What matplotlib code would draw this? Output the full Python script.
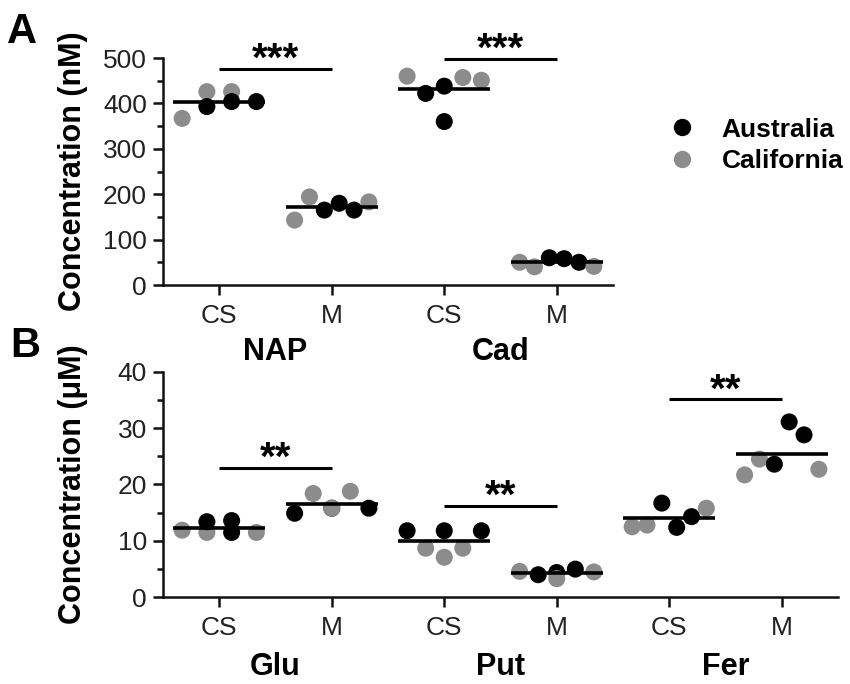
import numpy as np
import matplotlib
matplotlib.use("Agg")
import matplotlib.pyplot as plt
from matplotlib.lines import Line2D

plt.rcParams["font.family"] = ["Liberation Sans", "DejaVu Sans"]

# ---- data -----------------------------------------------------------------
conditions = ["CS", "M"]
origins = {"A": "Australia", "C": "California"}
origin_colors = {"A": "#000000", "C": "#8c8c8c"}

# Panel A: neurotransmitter concentrations (nM)
a_groups = ["NAP", "Cad"]
a_values = [
    [367, 426, 393, 426, 404, 404],      # NAP CS
    [143, 194, 165, 180, 165, 183],      # NAP M
    [460, 422, 438, 360, 457, 451],      # Cad CS
    [50, 40, 60, 58, 50, 41],            # Cad M
]
a_origin = ["CCACAA", "CCAAAC", "CAAACC", "CCAAAC"]
a_slot = [[0, 1, 1, 2, 2, 3], [0, 1, 2, 3, 4, 5],
          [0, 1, 2, 2, 3, 4], [0, 1, 2, 3, 4, 5]]
a_sig_y = [476, 498]
a_sig_text = ["***", "***"]

# Panel B: concentrations (uM)
b_groups = ["Glu", "Put", "Fer"]
b_values = [
    [11.9, 11.5, 13.4, 13.6, 11.5, 11.5],   # Glu CS
    [14.9, 18.4, 15.8, 15.8, 18.8, 15.8],   # Glu M
    [11.8, 8.7, 11.8, 7.1, 8.7, 11.8],      # Put CS
    [4.6, 4.0, 4.4, 3.3, 5.0, 4.5],         # Put M
    [12.5, 12.8, 16.7, 12.4, 14.3, 15.8],   # Fer CS
    [21.7, 24.5, 23.6, 31.1, 28.8, 22.7],   # Fer M
]
b_origin = ["CCAAAC", "ACACCA", "ACACCA", "CAACAC", "CCAAAC", "CCAAAC"]
b_slot = [[0, 1, 1, 2, 2, 3], [0, 1, 2, 2, 3, 4], [0, 1, 2, 2, 3, 4],
          [0, 1, 2, 2, 3, 4], [0, 1, 2, 3, 4, 5], [0, 1, 2, 3, 4, 5]]
b_sig_y = [23.0, 16.2, 35.1]
b_sig_text = ["**", "**", "**"]

# ---- styling --------------------------------------------------------------
SPINE_LW = 1.8
TICK_FS = 19
LABEL_FS = 22
SPREAD = 0.66
MARKER_S = 150
MEAN_HALF = 0.41


def style_axis(ax, ymax, major, minor, ncat):
    ax.set_xlim(-0.5, ncat - 0.5)
    ax.set_ylim(0, ymax)
    for side in ("top", "right"):
        ax.spines[side].set_visible(False)
    for side in ("left", "bottom"):
        ax.spines[side].set_linewidth(SPINE_LW)
        ax.spines[side].set_color("#111111")
    ax.set_yticks(np.arange(0, ymax + 1e-9, major))
    ax.set_yticks(np.arange(0, ymax + 1e-9, minor), minor=True)
    ax.set_xticks(np.arange(ncat))
    ax.set_xticklabels(conditions * (ncat // 2))
    ax.tick_params(axis="both", which="major", length=7.5, width=SPINE_LW,
                   labelsize=TICK_FS, colors="#111111", labelcolor="#222222",
                   direction="out")
    ax.tick_params(axis="y", which="minor", length=4, width=SPINE_LW,
                   colors="#111111")
    ax.tick_params(axis="x", which="major", pad=6)
    ax.tick_params(axis="y", which="major", pad=4)


def draw_groups(ax, values, origin, slots):
    z = 3
    for i, (vals, org, slot) in enumerate(zip(values, origin, slots)):
        n = max(slot) + 1
        step = SPREAD / (n - 1) if n > 1 else 0
        for v, o, s in zip(vals, org, slot):
            ax.scatter(i + (s - (n - 1) / 2) * step, v, s=MARKER_S,
                       color=origin_colors[o], edgecolors="none", zorder=z,
                       clip_on=False)
            z += 0.01
        ax.hlines(np.mean(vals), i - MEAN_HALF, i + MEAN_HALF, color="black",
                  lw=2.6, zorder=10)


def draw_sig(ax, sig_y, sig_text):
    for k, (y, t) in enumerate(zip(sig_y, sig_text)):
        x0, x1 = 2 * k, 2 * k + 1
        ax.plot([x0, x1], [y, y], color="black", lw=2.2, clip_on=False,
                solid_capstyle="butt")
        ax.annotate(t, xy=((x0 + x1) / 2, y), xytext=(0, -1.5),
                    textcoords="offset points", ha="center", va="baseline",
                    fontsize=29, fontweight="bold", annotation_clip=False)


def draw_group_names(ax, names, offset):
    for k, name in enumerate(names):
        ax.annotate(name, xy=(2 * k + 0.5, 0), xycoords=("data", "axes fraction"),
                    xytext=(0, -offset), textcoords="offset points",
                    ha="center", va="center", fontsize=22, fontweight="bold",
                    annotation_clip=False)


fig = plt.figure(figsize=(8.5, 6.84), dpi=100)
W, H = 850, 684
ax_a = fig.add_axes([163 / W, 1 - 285 / H, 450 / W, 227 / H])
ax_b = fig.add_axes([163 / W, 1 - 597.3 / H, 675 / W, 225.6 / H])

style_axis(ax_a, 500, 100, 50, 4)
style_axis(ax_b, 40, 10, 5, 6)

draw_groups(ax_a, a_values, a_origin, a_slot)
draw_groups(ax_b, b_values, b_origin, b_slot)
draw_sig(ax_a, a_sig_y, a_sig_text)
draw_sig(ax_b, b_sig_y, b_sig_text)
draw_group_names(ax_a, a_groups, 48)
draw_group_names(ax_b, b_groups, 50)

ax_a.set_ylabel("Concentration (nM)", fontsize=LABEL_FS, fontweight="bold")
ax_b.set_ylabel("Concentration (\u03bcM)", fontsize=LABEL_FS, fontweight="bold")
ax_a.yaxis.set_label_coords(-0.167, 0.5)
ax_b.yaxis.set_label_coords(-0.111, 0.5)

fig.text(7 / W, 1 - 43 / H, "A", fontsize=30, fontweight="bold", va="baseline")
fig.text(10 / W, 1 - 357 / H, "B", fontsize=30, fontweight="bold", va="baseline")

handles = [Line2D([], [], ls="none", marker="o", markersize=12.5,
                  markerfacecolor=origin_colors[k], markeredgecolor="none")
           for k in ("A", "C")]
fig.legend(handles, [origins["A"], origins["C"]], loc="center left",
           bbox_to_anchor=(669 / W, 1 - 145.5 / H), frameon=False,
           handlelength=1.0, handletextpad=1.0, labelspacing=0.3,
           borderpad=0, borderaxespad=0,
           prop={"size": 19, "weight": "bold"})

fig.savefig("out.png", dpi=100)
